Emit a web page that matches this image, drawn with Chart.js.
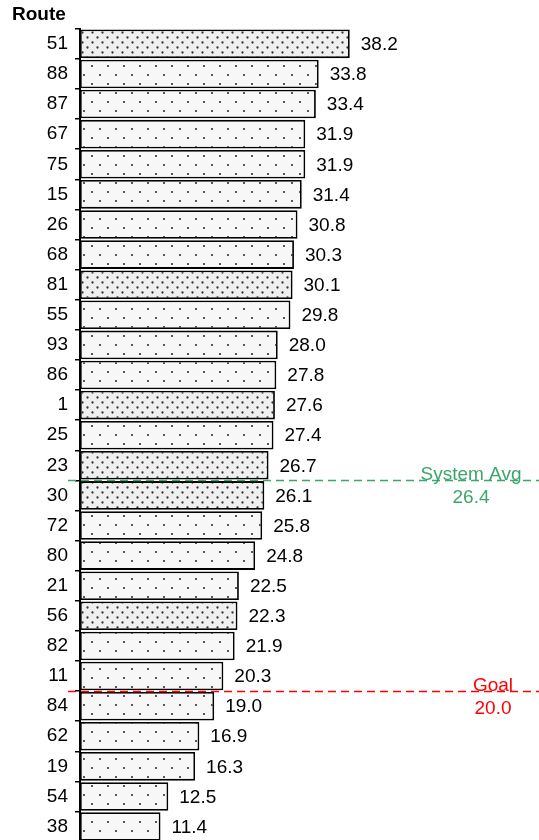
<!DOCTYPE html>
<html>
<head>
<meta charset="utf-8">
<script src="https://cdn.jsdelivr.net/npm/chart.js@4"></script>
<style>
  html, body { margin: 0; padding: 0; background: #fff; overflow: hidden; }
  /* a bit taller than the window: the last bar runs off the bottom edge, as in the original */
  #wrap { position: absolute; left: 0; top: 0; width: 539px; height: 860px; }
</style>
</head>
<body>
<div id="wrap"><canvas id="myChart"></canvas></div>
<script>
// routes, sorted as in the picture
var routes = ['51','88','87','67','75','15','26','68','81','55','93','86','1','25','23',
              '30','72','80','21','56','82','11','84','62','19','54','38'];
var values = [38.2, 33.8, 33.4, 31.9, 31.9, 31.4, 30.8, 30.3, 30.1, 29.8, 28.0, 27.8, 27.6, 27.4, 26.7,
              26.1, 25.8, 24.8, 22.5, 22.3, 21.9, 20.3, 19.0, 16.9, 16.3, 12.5, 11.4];
// routes drawn with the dense dot fill
var denseRoutes = ['51','81','1','23','30','56'];

// reference lines
var refNames = ['System Avg', 'Goal'];
var refValues = [26.4, 20.0];
var refColors = ['#3ca56c', '#ff0000'];
var refLabelX = [471, 493];

var FONT = '"Liberation Sans", Arial, sans-serif';

function makePattern(w, h, bg, dots, dotColor, r) {
    var c = document.createElement('canvas');
    c.width = w; c.height = h;
    var g = c.getContext('2d');
    g.fillStyle = bg;
    g.fillRect(0, 0, w, h);
    g.fillStyle = dotColor;
    dots.forEach(function (d) {
        g.beginPath();
        g.arc(d[0], d[1], r, 0, Math.PI * 2);
        g.fill();
    });
    return g.createPattern(c, 'repeat');
}

var ctx = document.getElementById('myChart').getContext('2d');
var sparseFill = makePattern(16, 18, '#f7f7f7', [[4, 3], [12, 12]], '#222', 1.0);
var denseFill = makePattern(10, 10, '#efefef', [[2.5, 2.5], [7.5, 7.5]], '#333', 1.15);

// value labels at the end of each bar
var valueLabels = {
    id: 'valueLabels',
    afterDatasetsDraw: function (chart) {
        var c = chart.ctx;
        var meta = chart.getDatasetMeta(0);
        c.save();
        c.font = '19px ' + FONT;
        c.fillStyle = '#000';
        c.textAlign = 'left';
        c.textBaseline = 'middle';
        meta.data.forEach(function (bar, i) {
            c.fillText(values[i].toFixed(1), bar.x + 11, bar.y + 1);
        });
        c.restore();
    }
};

// dashed lines for avg / goal, placed between the ranked routes
var refLines = {
    id: 'refLines',
    afterDatasetsDraw: function (chart) {
        var c = chart.ctx;
        var yScale = chart.scales.y;
        c.save();
        for (var k = 0; k < refValues.length; k++) {
            var above = values.filter(function (v) { return v > refValues[k]; }).length;
            var y = Math.round(yScale.getPixelForValue(above - 0.5)) + 0.5;
            c.strokeStyle = refColors[k];
            c.lineWidth = 1.5;
            c.setLineDash([8, 5]);
            c.beginPath();
            c.moveTo(68, y);
            c.lineTo(chart.width, y);
            c.stroke();
            c.setLineDash([]);
            c.fillStyle = refColors[k];
            c.font = '19px ' + FONT;
            c.textAlign = 'center';
            c.textBaseline = 'alphabetic';
            c.fillText(refNames[k], refLabelX[k], y - 1);
            c.fillText(refValues[k].toFixed(1), refLabelX[k], y + 22);
        }
        c.restore();
    }
};

var myChart = new Chart(ctx, {
    type: 'bar',
    data: {
        labels: routes,
        datasets: [{
            data: values,
            backgroundColor: routes.map(function (r) {
                return denseRoutes.indexOf(r) >= 0 ? denseFill : sparseFill;
            }),
            borderColor: '#000',
            borderWidth: 1.8,
            borderSkipped: false,
            categoryPercentage: 1.0,
            barPercentage: 0.95
        }]
    },
    options: {
        indexAxis: 'y',
        responsive: true,
        maintainAspectRatio: false,
        animation: false,
        layout: { padding: { left: 12, right: 0, top: 0, bottom: 0 } },
        plugins: {
            legend: { display: false },
            tooltip: { enabled: false },
            title: {
                display: true,
                text: 'Route',
                align: 'start',
                color: '#000',
                font: { family: FONT, size: 19, weight: 'bold' },
                padding: { top: 3, bottom: 3 }
            }
        },
        scales: {
            x: {
                display: false,
                min: 0,
                max: 65
            },
            y: {
                afterFit: function (scale) { scale.width = 68; },
                ticks: {
                    color: '#000',
                    padding: 7,
                    font: { family: FONT, size: 19 }
                },
                grid: {
                    offset: true,
                    drawOnChartArea: false,
                    drawTicks: true,
                    tickLength: 5,
                    color: '#000',
                    lineWidth: 1.5
                },
                border: { color: '#000', width: 2 }
            }
        }
    },
    plugins: [valueLabels, refLines]
});
</script>
</body>
</html>
